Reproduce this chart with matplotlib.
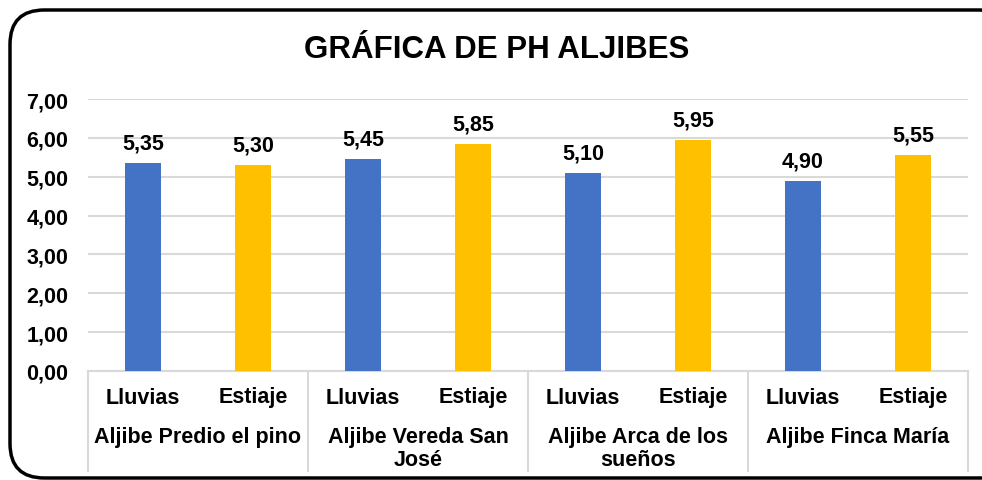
import matplotlib.pyplot as plt
from matplotlib.patches import FancyBboxPatch
from matplotlib.transforms import blended_transform_factory

plt.rcParams['font.family'] = ['Liberation Sans', 'DejaVu Sans']

aljibes = ["Aljibe Predio el pino", "Aljibe Vereda San\nJosé",
           "Aljibe Arca de los\nsueños", "Aljibe Finca María"]
temporadas = ["Lluvias", "Estiaje"]
ph_values = [5.35, 5.30, 5.45, 5.85, 5.10, 5.95, 4.90, 5.55]
colors = ["#4472C4", "#FFC000"]

W, H = 982, 481
FS = 15.5
fig = plt.figure(figsize=(W / 100, H / 100), dpi=100)
ax = fig.add_axes([88 / W, (H - 372) / H, (968 - 88) / W, (372 - 100) / H])

xs = list(range(len(ph_values)))
bar_colors = [colors[i % 2] for i in xs]
bars = ax.bar(xs, ph_values, width=0.32, color=bar_colors, zorder=3)

for x, v in zip(xs, ph_values):
    ax.annotate(f"{v:.2f}".replace(".", ","), (x, v), xytext=(0, 10.5),
                textcoords="offset points", ha="center", va="baseline",
                fontsize=FS, fontweight="bold")

ax.set_xlim(-0.5, len(ph_values) - 0.5)
ax.set_ylim(0, 7)
ax.set_yticks(range(8))
ax.set_yticklabels([f"{t},00" for t in range(8)], fontsize=FS, fontweight="bold")
ax.tick_params(axis="y", length=0, pad=14)
ax.tick_params(axis="x", length=0, labelbottom=False)
ax.grid(axis="y", color="#d9d9d9", linewidth=1.5, zorder=0)
for s in ["top", "right", "left"]:
    ax.spines[s].set_visible(False)
ax.spines["bottom"].set_color("#d9d9d9")
ax.spines["bottom"].set_linewidth(1.5)

# multi-level category axis
trans = blended_transform_factory(ax.transData, fig.transFigure)
for x in xs:
    ax.text(x, 1 - 398 / H, temporadas[x % 2], transform=trans, ha="center",
            va="center", fontsize=FS, fontweight="bold")
for g, name in enumerate(aljibes):
    ax.text(2 * g + 0.5, 1 - 427 / H, name, transform=trans, ha="center",
            va="top", fontsize=FS, fontweight="bold", linespacing=1.15)
for b in [-0.5, 1.5, 3.5, 5.5, 7.5]:
    ax.plot([b, b], [1 - 372 / H, 1 - 472 / H], transform=trans,
            color="#d9d9d9", linewidth=1.5, clip_on=False)

fig.text(497 / W, 1 - 50 / H, "GRÁFICA DE PH ALJIBES", ha="center", va="center",
         fontsize=22.5, fontweight="bold")

border = FancyBboxPatch((10 / W, 2 / H), 1005 / W, 468 / H,
                        boxstyle="round,pad=0,rounding_size=0.035",
                        transform=fig.transFigure, fill=False,
                        edgecolor="black", linewidth=2.5, mutation_aspect=W / H)
fig.patches.append(border)

fig.savefig("out.png", dpi=100)
